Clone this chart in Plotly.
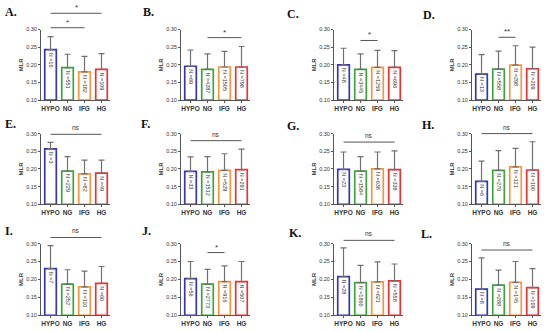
import plotly.graph_objects as go

categories = ["HYPO", "NG", "IFG", "HG"]
panel_letters = ["A.", "B.", "C.", "D.", "E.", "F.", "G.", "H.", "I.", "J.", "K.", "L."]

means = [
    [0.243, 0.192, 0.180, 0.187],
    [0.196, 0.187, 0.194, 0.194],
    [0.200, 0.187, 0.193, 0.193],
    [0.174, 0.188, 0.199, 0.189],
    [0.257, 0.194, 0.186, 0.188],
    [0.193, 0.192, 0.196, 0.198],
    [0.199, 0.194, 0.200, 0.198],
    [0.165, 0.196, 0.206, 0.197],
    [0.230, 0.187, 0.179, 0.189],
    [0.202, 0.187, 0.194, 0.194],
    [0.208, 0.191, 0.193, 0.196],
    [0.173, 0.184, 0.192, 0.177],
]
upper = [
    [0.280, 0.230, 0.224, 0.232],
    [0.242, 0.231, 0.238, 0.252],
    [0.247, 0.231, 0.241, 0.240],
    [0.229, 0.239, 0.254, 0.250],
    [0.275, 0.235, 0.225, 0.225],
    [0.234, 0.235, 0.243, 0.256],
    [0.248, 0.235, 0.248, 0.251],
    [0.222, 0.252, 0.258, 0.277],
    [0.294, 0.227, 0.223, 0.236],
    [0.250, 0.228, 0.238, 0.250],
    [0.288, 0.239, 0.249, 0.243],
    [0.260, 0.226, 0.250, 0.230],
]
counts = [
    [10, 551, 182, 109],
    [69, 4287, 1505, 798],
    [48, 3445, 1259, 696],
    [13, 558, 298, 209],
    [3, 229, 82, 49],
    [33, 1512, 529, 291],
    [23, 1584, 638, 338],
    [6, 270, 121, 100],
    [7, 252, 110, 60],
    [56, 2773, 916, 507],
    [28, 1860, 621, 558],
    [8, 288, 145, 109],
]
# significance brackets: (from category, to category, height, label)
brackets = [
    [(0, 3, 0.346, "*"), (0, 2, 0.305, "*")],
    [(1, 3, 0.277, "*")],
    [(1, 2, 0.269, "*")],
    [(1, 2, 0.278, "**")],
    [(0, 3, 0.298, "ns")],
    [(0, 3, 0.280, "ns")],
    [(0, 3, 0.276, "ns")],
    [(0, 3, 0.300, "ns")],
    [(0, 3, 0.317, "ns")],
    [(1, 2, 0.275, "*")],
    [(0, 3, 0.309, "ns")],
    [(0, 3, 0.282, "ns")],
]
y_ticks = [0.10, 0.15, 0.20, 0.25, 0.30]
y_tick_text = ["0.10", "0.15", "0.20", "0.25", "0.30"]

# ---- layout / styling ----
W, H = 550, 332
colors = ["#3535b5", "#3aa63a", "#f7943c", "#ee3030"]
axis_color = "#555555"
err_color = "#707070"
col_axis_px = [41, 181, 334, 472]
col_width_px = 69
row_px = [(27, 99), (133, 205), (245, 318)]
letter_pos = [(3, 9), (141, 9), (285, 11), (421, 12),
              (3, 123), (139, 123), (285, 125), (420, 124),
              (3, 232), (140, 232), (287, 234), (419, 235)]
XMIN, XMAX = -0.56, 3.5
YMIN, YMAX = 0.10, 0.30

fig = go.Figure()
layout = dict(width=W, height=H, margin=dict(l=0, r=0, t=0, b=0),
              paper_bgcolor="white", plot_bgcolor="white", showlegend=False,
              font=dict(family="Liberation Sans", color="#333333"))
shapes = []
annotations = []

for k in range(12):
    r, c = divmod(k, 4)
    ax = "" if k == 0 else str(k + 1)
    xname, yname = "x" + ax, "y" + ax
    x0 = col_axis_px[c] / W
    x1 = (col_axis_px[c] + col_width_px) / W
    ytop, ybot = row_px[r]
    y1 = 1 - ytop / H
    y0 = 1 - ybot / H
    err_plus = [u - m for u, m in zip(upper[k], means[k])]
    fig.add_trace(go.Bar(
        x=list(range(4)), y=[m - YMIN for m in means[k]], base=YMIN,
        xaxis=xname, yaxis=yname, width=0.68,
        marker=dict(color="white", line=dict(color=colors, width=1.7)),
        error_y=dict(type="data", symmetric=False, array=err_plus,
                     arrayminus=[0] * 4, color=err_color, thickness=1.2, width=3),
        text=[f"N ={n}" for n in counts[k]], textposition="inside",
        insidetextanchor="end", textangle=90, constraintext="none",
        textfont=dict(size=5.5, color="#333333", family="Liberation Sans"),
        hoverinfo="skip",
    ))
    layout["xaxis" + ax] = dict(
        domain=[x0, x1], anchor=yname, range=[XMIN, XMAX],
        tickvals=list(range(4)), ticktext=[f"<b>{t}</b>" for t in categories],
        tickangle=0, tickfont=dict(size=6.5, color="#333333"), showline=True,
        linecolor=axis_color, linewidth=1, ticks="outside", ticklen=2,
        tickcolor=axis_color, showgrid=False, zeroline=False, fixedrange=True)
    layout["yaxis" + ax] = dict(
        domain=[y0, y1], anchor=xname, range=[YMIN, YMAX],
        tickvals=y_ticks, ticktext=y_tick_text, tickfont=dict(size=5.5, color="#333333"),
        showline=True, linecolor=axis_color, linewidth=1, ticks="outside", ticklen=2,
        tickcolor=axis_color, showgrid=False, zeroline=False, fixedrange=True,
        title=dict(text="<b>MLR</b>", font=dict(size=6, color="#333333"), standoff=2))
    for (i0, i1, yv, lab) in brackets[k]:
        fx0 = (i0 - XMIN) / (XMAX - XMIN)
        fx1 = (i1 - XMIN) / (XMAX - XMIN)
        fy = (yv - YMIN) / (YMAX - YMIN)
        shapes.append(dict(type="line", xref=xname + " domain", yref=yname + " domain",
                           x0=fx0, x1=fx1, y0=fy, y1=fy,
                           line=dict(color=axis_color, width=1)))
        annotations.append(dict(xref=xname + " domain", yref=yname + " domain",
                                x=(fx0 + fx1) / 2, y=fy,
                                text=lab, showarrow=False, yanchor="bottom",
                                font=dict(size=8 if lab != "ns" else 6.5, color="#333333"),
                                yshift=-1 if lab != "ns" else 1))
    lx, ly = letter_pos[k]
    annotations.append(dict(xref="paper", yref="paper", x=lx / W, y=1 - ly / H,
                            text=f"<b>{panel_letters[k]}</b>", showarrow=False,
                            xanchor="left", yanchor="middle",
                            font=dict(size=12, family="Liberation Serif", color="#111111")))

layout["shapes"] = shapes
layout["annotations"] = annotations
fig.update_layout(**layout)
fig.write_html("out.html", config={"displayModeBar": False},
               post_script="document.body.style.margin='0';")
